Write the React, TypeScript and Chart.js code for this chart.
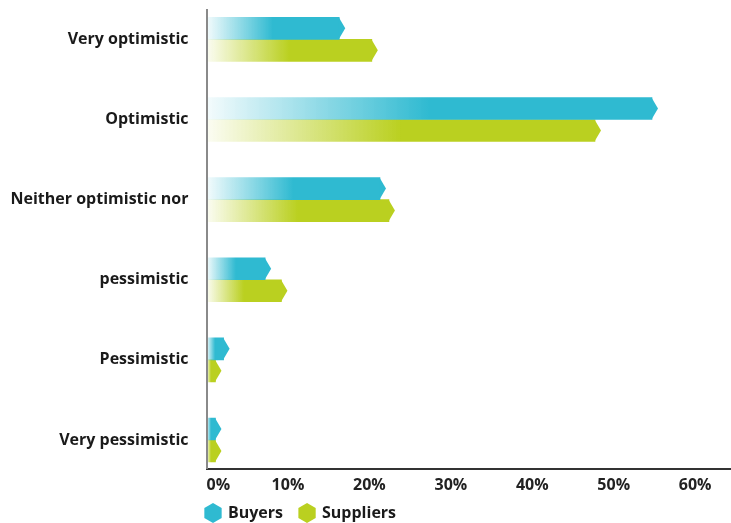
import { useEffect, useRef } from "react";
import { Chart, registerables } from "chart.js";

Chart.register(...registerables);

const categories = [
  "Very optimistic",
  "Optimistic",
  "Neither optimistic nor",
  "pessimistic",
  "Pessimistic",
  "Very pessimistic",
];
const buyers = [16.3, 54.7, 21.3, 7.2, 2.1, 1.1];
const suppliers = [20.3, 47.7, 22.4, 9.2, 1.1, 1.1];
const seriesNames = ["Buyers", "Suppliers"];
const seriesRgb = ["47,186,209", "186,208,32"];
const xTickValues = [0, 10, 20, 30, 40, 50, 60];

const FONT = "'Open Sans'";
const WEIGHT = "700";
const X_MAX = 64.4;

function gradientFill(rgb: string) {
  return (ctx: any) => {
    const solid = `rgb(${rgb})`;
    if (ctx.type !== "data") return solid;
    const chart = ctx.chart;
    const xs = chart.scales && chart.scales.x;
    if (!xs) return solid;
    const v = ctx.raw && typeof ctx.raw === "object" ? ctx.raw.x : ctx.raw;
    const x0 = xs.getPixelForValue(0);
    const x1 = xs.getPixelForValue(v);
    if (!isFinite(x0) || !isFinite(x1) || x1 - x0 < 1) return solid;
    const g = chart.ctx.createLinearGradient(x0, 0, x1, 0);
    g.addColorStop(0, `rgba(${rgb},0.05)`);
    g.addColorStop(0.5, `rgba(${rgb},1)`);
    g.addColorStop(1, `rgba(${rgb},1)`);
    return g;
  };
}

function hexPath(c: CanvasRenderingContext2D, cx: number, cy: number, r: number) {
  c.beginPath();
  for (let i = 0; i < 6; i++) {
    const a = (-90 + i * 60) * (Math.PI / 180);
    const px = cx + r * Math.cos(a);
    const py = cy + r * Math.sin(a);
    if (i === 0) c.moveTo(px, py);
    else c.lineTo(px, py);
  }
  c.closePath();
}

const tipsPlugin = {
  id: "barTips",
  afterDatasetsDraw(chart: any) {
    const c = chart.ctx;
    chart.data.datasets.forEach((ds: any, di: number) => {
      const meta = chart.getDatasetMeta(di);
      c.save();
      c.fillStyle = `rgb(${seriesRgb[di]})`;
      meta.data.forEach((bar: any) => {
        const { x, y, height } = bar.getProps(["x", "y", "height"], true);
        const h = height / 2;
        c.beginPath();
        c.moveTo(x - 0.5, y - h);
        c.lineTo(x + 6, y);
        c.lineTo(x - 0.5, y + h);
        c.closePath();
        c.fill();
      });
      c.restore();
    });
  },
};

const legendPlugin = {
  id: "hexLegend",
  afterDraw(chart: any) {
    const c = chart.ctx;
    const left = chart.chartArea.left;
    const cy = 513;
    c.save();
    c.font = `${WEIGHT} 16px ${FONT}`;
    c.textBaseline = "middle";
    c.textAlign = "left";
    let cx = left + 6.5;
    seriesNames.forEach((name, i) => {
      c.fillStyle = `rgb(${seriesRgb[i]})`;
      hexPath(c, cx, cy, 10);
      c.fill();
      c.fillStyle = "#1a1a1a";
      const tx = cx + 15;
      c.fillText(name, tx, cy);
      const w = c.measureText(name).width;
      cx = tx + w + 24;
    });
    c.restore();
  },
};

export default function App() {
  const ref = useRef<HTMLCanvasElement>(null);

  useEffect(() => {
    document.body.style.margin = "0";
    if (!ref.current) return;
    const chart = new Chart(ref.current, {
      type: "bar",
      data: {
        datasets: [
          {
            label: seriesNames[0],
            data: buyers.map((v, i) => ({ x: v, y: i })),
            backgroundColor: gradientFill(seriesRgb[0]),
            barThickness: 22,
            borderWidth: 0,
          },
          {
            label: seriesNames[1],
            data: suppliers.map((v, i) => ({ x: v, y: i })),
            backgroundColor: gradientFill(seriesRgb[1]),
            barThickness: 22,
            borderWidth: 0,
          },
        ],
      },
      options: {
        indexAxis: "y",
        responsive: false,
        animation: false,
        layout: { padding: { top: 10, bottom: 24.5, left: 0, right: 0 } },
        plugins: {
          legend: { display: false },
          tooltip: { enabled: false },
        },
        scales: {
          x: {
            type: "linear",
            min: 0,
            max: X_MAX,
            afterBuildTicks: (scale: any) => {
              scale.ticks = [...xTickValues, X_MAX].map((v) => ({ value: v }));
            },
            afterFit: (scale: any) => {
              scale.height = 30;
              scale.paddingLeft = 0;
              scale.paddingRight = 0;
            },
            ticks: {
              align: "inner",
              autoSkip: false,
              maxRotation: 0,
              padding: 7,
              color: "#222",
              font: { family: FONT, size: 16, weight: WEIGHT },
              callback: (v: any) => (xTickValues.includes(v) ? `${v}%` : ""),
            },
            grid: { display: false, drawTicks: false },
            border: { display: true, color: "#333", width: 2 },
          },
          y: {
            type: "linear",
            offset: false,
            reverse: true,
            min: -0.366,
            max: 5.356,
            afterBuildTicks: (scale: any) => {
              scale.ticks = categories.map((_, i) => ({ value: i }));
            },
            afterFit: (scale: any) => {
              scale.width = 206.5;
              scale.paddingTop = 0;
              scale.paddingBottom = 0;
            },
            ticks: {
              autoSkip: false,
              padding: 18,
              color: "#1a1a1a",
              font: { family: FONT, size: 16, weight: WEIGHT },
              callback: (v: any) => categories[v] ?? "",
            },
            grid: { display: false, drawTicks: false },
            border: { display: true, color: "#8a8a8a", width: 2, z: 1 },
          },
        },
      } as any,
      plugins: [tipsPlugin, legendPlugin],
    });
    return () => chart.destroy();
  }, []);

  return (
    <div style={{ width: 731, height: 523 }}>
      <canvas ref={ref} width={731} height={523} />
    </div>
  );
}
